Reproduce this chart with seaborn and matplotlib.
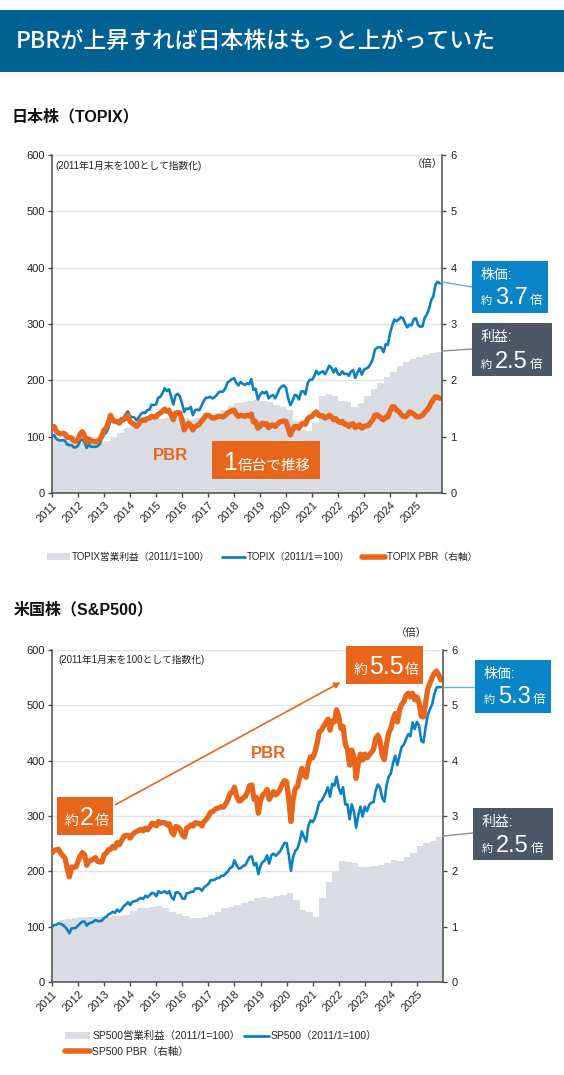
import numpy as np
import matplotlib
matplotlib.use("Agg")
import matplotlib.pyplot as plt
from matplotlib.lines import Line2D
from matplotlib.patches import Rectangle, Patch, FancyArrowPatch
import seaborn as sns

sns.set_theme(style="white")
plt.rcParams["font.family"] = ["Liberation Sans", "Noto Sans CJK JP"]

W, H = 564, 1075
BLUE = "#0b80c3"
ORANGE = "#e8661b"
AREA = "#d9dce2"
DARK = "#4f5668"
BANNER = "#006192"
SPINE = "#4a4a4a"

years = list(range(2011, 2026))

# TOPIX (2011/1 = 100), monthly
topix_index = [
    100, 103, 96, 94, 93, 94, 93, 86, 85, 85, 81, 81,
    84, 93, 95, 90, 80, 86, 82, 82, 82, 83, 87, 96,
    104, 107, 115, 129, 126, 126, 126, 123, 133, 133, 140, 145,
    136, 135, 134, 129, 134, 140, 143, 142, 147, 148, 157, 156,
    157, 169, 171, 177, 186, 181, 184, 171, 157, 173, 176, 172,
    159, 144, 150, 149, 153, 138, 147, 148, 147, 155, 163, 169,
    169, 171, 168, 170, 174, 179, 180, 180, 186, 196, 199, 202,
    204, 196, 191, 197, 194, 192, 195, 193, 202, 183, 185, 166,
    174, 179, 177, 180, 168, 172, 174, 168, 176, 185, 189, 191,
    187, 168, 156, 163, 174, 173, 166, 180, 181, 175, 195, 201,
    201, 207, 217, 211, 214, 216, 211, 218, 226, 222, 214, 221,
    211, 210, 216, 211, 212, 208, 216, 218, 204, 214, 221, 210,
    219, 221, 223, 229, 237, 254, 258, 259, 258, 250, 264, 263,
    283, 297, 308, 305, 308, 312, 310, 301, 294, 299, 298, 309,
    310, 298, 295, 296, 311, 317, 327, 342, 349, 370, 375, 372,
]

# TOPIX PBR (right axis), monthly
topix_pbr = [
    1.15, 1.18, 1.10, 1.06, 1.05, 1.06, 1.05, 0.99, 0.98, 0.98, 0.93, 0.92,
    0.95, 1.05, 1.09, 1.02, 0.91, 0.96, 0.92, 0.92, 0.91, 0.92, 0.95, 1.02,
    1.12, 1.15, 1.25, 1.38, 1.30, 1.27, 1.27, 1.24, 1.30, 1.30, 1.33, 1.38,
    1.27, 1.24, 1.22, 1.18, 1.22, 1.28, 1.30, 1.29, 1.32, 1.33, 1.36, 1.35,
    1.35, 1.40, 1.42, 1.45, 1.49, 1.45, 1.47, 1.38, 1.30, 1.42, 1.43, 1.42,
    1.30, 1.12, 1.18, 1.24, 1.20, 1.12, 1.18, 1.20, 1.22, 1.28, 1.32, 1.38,
    1.38, 1.36, 1.33, 1.33, 1.35, 1.36, 1.36, 1.35, 1.38, 1.42, 1.44, 1.46,
    1.47, 1.40, 1.36, 1.38, 1.37, 1.36, 1.38, 1.37, 1.40, 1.26, 1.27, 1.15,
    1.18, 1.24, 1.22, 1.23, 1.16, 1.20, 1.21, 1.18, 1.22, 1.26, 1.27, 1.28,
    1.27, 1.15, 1.03, 1.12, 1.18, 1.18, 1.15, 1.22, 1.24, 1.22, 1.32, 1.35,
    1.36, 1.41, 1.44, 1.38, 1.37, 1.37, 1.33, 1.35, 1.38, 1.35, 1.30, 1.32,
    1.27, 1.25, 1.27, 1.22, 1.22, 1.18, 1.22, 1.23, 1.16, 1.19, 1.21, 1.15,
    1.18, 1.19, 1.20, 1.25, 1.30, 1.38, 1.39, 1.36, 1.33, 1.30, 1.35, 1.35,
    1.45, 1.53, 1.53, 1.47, 1.45, 1.40, 1.36, 1.35, 1.38, 1.44, 1.42, 1.40,
    1.36, 1.35, 1.36, 1.38, 1.43, 1.47, 1.52, 1.60, 1.66, 1.71, 1.70, 1.68,
]

# TOPIX operating profit (2011/1 = 100), quarterly
topix_profit = [
    100, 95, 92, 90,
    88, 88, 89, 90,
    92, 98, 107, 115,
    120, 123, 127, 130,
    131, 133, 135, 134,
    133, 132, 134, 137,
    138, 142, 148, 154,
    159, 162, 164, 165,
    163, 161, 157, 152,
    147, 128, 112, 110,
    125, 172, 175, 173,
    163, 162, 153, 160,
    172, 185, 196, 206,
    215, 225, 233, 237,
    242, 245, 248, 251,
]

# S&P500 (2011/1 = 100), monthly
sp500_index = [
    100, 103, 103, 106, 105, 103, 100, 95, 88, 97, 97, 98,
    102, 106, 109, 109, 102, 106, 107, 109, 112, 110, 110, 111,
    116, 118, 122, 124, 127, 125, 131, 127, 131, 137, 140, 144,
    139, 145, 146, 147, 150, 152, 150, 156, 153, 157, 161, 160,
    155, 164, 161, 162, 164, 160, 164, 153, 149, 162, 162, 159,
    151, 150, 160, 161, 163, 163, 169, 169, 169, 165, 171, 174,
    177, 184, 184, 185, 188, 188, 192, 192, 196, 200, 206, 208,
    220, 211, 205, 206, 210, 211, 219, 226, 227, 211, 215, 195,
    210, 217, 220, 229, 214, 229, 232, 228, 232, 236, 244, 251,
    251, 230, 201, 226, 237, 241, 254, 272, 262, 254, 282, 292,
    289, 296, 309, 325, 327, 334, 342, 352, 335, 358, 355, 371,
    351, 340, 352, 321, 321, 294, 321, 308, 279, 301, 317, 299,
    317, 309, 320, 324, 325, 346, 357, 351, 333, 326, 355, 371,
    377, 396, 409, 392, 410, 425, 429, 439, 448, 444, 469, 457,
    470, 463, 436, 433, 460, 483, 493, 502, 520, 532, 533, 533,
]

# S&P500 PBR (right axis), monthly
sp500_pbr = [
    2.33, 2.38, 2.39, 2.40, 2.33, 2.28, 2.24, 2.05, 1.90, 2.08, 2.07, 2.08,
    2.18, 2.28, 2.34, 2.30, 2.11, 2.18, 2.20, 2.22, 2.25, 2.18, 2.17, 2.17,
    2.30, 2.33, 2.39, 2.40, 2.45, 2.42, 2.52, 2.48, 2.55, 2.63, 2.65, 2.65,
    2.60, 2.66, 2.70, 2.72, 2.74, 2.76, 2.73, 2.78, 2.75, 2.80, 2.87, 2.86,
    2.82, 2.90, 2.87, 2.88, 2.88, 2.84, 2.86, 2.72, 2.66, 2.81, 2.80, 2.76,
    2.66, 2.62, 2.78, 2.80, 2.84, 2.82, 2.88, 2.87, 2.86, 2.82, 2.90, 2.94,
    2.99, 3.07, 3.08, 3.12, 3.14, 3.15, 3.17, 3.16, 3.22, 3.30, 3.41, 3.43,
    3.52, 3.36, 3.27, 3.28, 3.33, 3.35, 3.44, 3.55, 3.56, 3.30, 3.34, 3.05,
    3.28, 3.38, 3.41, 3.48, 3.30, 3.38, 3.44, 3.38, 3.42, 3.48, 3.58, 3.64,
    3.62, 3.30, 2.90, 3.30, 3.50, 3.53, 3.70, 3.86, 3.74, 3.70, 3.95, 4.07,
    4.05, 4.15, 4.30, 4.52, 4.55, 4.62, 4.68, 4.75, 4.55, 4.72, 4.70, 4.92,
    4.80, 4.58, 4.62, 4.30, 4.20, 3.92, 4.19, 4.07, 3.68, 3.95, 4.12, 4.01,
    4.12, 4.05, 4.10, 4.15, 4.20, 4.40, 4.46, 4.35, 4.10, 4.02, 4.30, 4.50,
    4.58, 4.75, 4.85, 4.70, 4.92, 5.02, 5.07, 5.18, 5.22, 5.15, 5.22, 5.10,
    5.15, 5.04, 4.80, 4.79, 5.05, 5.30, 5.40, 5.50, 5.58, 5.62, 5.55, 5.46,
]

# S&P500 operating profit (2011/1 = 100), quarterly
sp500_profit = [
    100, 112, 114, 115,
    118, 118, 117, 118,
    118, 119, 120, 121,
    129, 133, 134, 135,
    137, 133, 127, 122,
    119, 116, 116, 117,
    121, 127, 133, 136,
    139, 142, 147, 152,
    154, 152, 155, 157,
    161, 148, 130, 127,
    118, 151, 181, 199,
    219, 217, 215, 208,
    207, 210, 212, 215,
    220, 219, 226, 234,
    246, 251, 254, 262,
]

months = 2011 + np.arange(len(topix_index)) / 12
q_edges = 2011 + np.arange(len(topix_profit) + 1) / 4


def fx(x):
    return x / W


def fy(y):
    return 1 - y / H


def panel(rect, index, pbr, profit):
    ax = fig.add_axes(rect)
    ax.fill_between(q_edges, np.append(profit, profit[-1]), step="post",
                    color=AREA, lw=0, zorder=1)
    sns.lineplot(x=months, y=index, ax=ax, color=BLUE, linewidth=1.9, zorder=3)
    ax.set_xlim(2011, 2026)
    ax.set_ylim(0, 600)
    ax.set_yticks(range(0, 601, 100))
    ax.set_xticks(years)
    ax.set_xticklabels([str(y) for y in years], rotation=45, ha="right",
                       rotation_mode="anchor")
    ax.yaxis.grid(True, color="#e1e3ea", lw=1)
    ax.set_axisbelow(True)
    for s in ["top", "right"]:
        ax.spines[s].set_visible(False)
    for s in ["left", "bottom"]:
        ax.spines[s].set_color(SPINE)
        ax.spines[s].set_linewidth(1.1)
    ax.tick_params(axis="both", which="both", bottom=True, left=True,
                   length=3, width=1, color=SPINE, labelsize=8, pad=2,
                   labelcolor="#222222")

    ax2 = ax.twinx()
    sns.lineplot(x=months, y=pbr, ax=ax2, color=ORANGE, linewidth=3.8,
                 solid_capstyle="round")
    ax2.set_ylim(0, 6)
    ax2.set_yticks(range(0, 7))
    ax2.grid(False)
    for s in ["top", "left", "bottom"]:
        ax2.spines[s].set_visible(False)
    ax2.spines["right"].set_visible(True)
    ax2.spines["right"].set_color(SPINE)
    ax2.spines["right"].set_linewidth(1.1)
    ax2.tick_params(axis="y", right=True, length=3, width=1, color=SPINE,
                    labelsize=8, pad=3, labelcolor="#222222")
    ax.set_xlabel("")
    ax.set_ylabel("")
    ax2.set_ylabel("")
    return ax, ax2


def box(x0, y0, x1, y1, color):
    fig.add_artist(Rectangle((fx(x0), fy(y1)), fx(x1 - x0), (y1 - y0) / H,
                             transform=fig.transFigure, facecolor=color,
                             edgecolor="none", zorder=5))


def txt(x, y, s, size, color="white", weight="normal", va="baseline", ha="left"):
    return fig.text(fx(x), fy(y), s, fontsize=size, color=color, weight=weight,
                    va=va, ha=ha, zorder=6)


def run(x, base, parts):
    # place pieces of text one after another on a shared baseline
    r = fig.canvas.get_renderer()
    for s, size, gap in parts:
        t = txt(x, base, s, size)
        x += t.get_window_extent(renderer=r).width + gap


def link(x0, y0, x1, y1, color):
    fig.add_artist(Line2D([fx(x0), fx(x1)], [fy(y0), fy(y1)],
                          transform=fig.transFigure, color=color, lw=1, zorder=4))


def callout(x0, y0, x1, y1, color, head, value, base):
    box(x0, y0, x1, y1, color)
    txt(x0 + 9, y0 + 14, head, 10, va="center")
    run(x0 + 9, base, [("約", 8, 3), (value, 17, 2), ("倍", 9, 0)])


fig = plt.figure(figsize=(W / 100, H / 100), dpi=100)
fig.patch.set_facecolor("white")

# banner
fig.add_artist(Rectangle((0, fy(72)), 1, 62 / H, transform=fig.transFigure,
                         facecolor=BANNER, edgecolor="none"))
fig.text(fx(16), fy(41), "PBRが上昇すれば日本株はもっと上がっていた",
         fontsize=16.5, color="white", weight="medium", va="center",
         family=["Noto Sans CJK JP"])

# ---- TOPIX ----
txt(11, 117, "日本株（TOPIX）", 11.5, color="#111111", weight="bold", va="center")
panel([fx(52), fy(493), fx(442) - fx(52), (493 - 155) / H],
      topix_index, topix_pbr, topix_profit)
txt(55, 166, "(2011年1月末を100として指数化)", 7, color="#222222", va="center")
txt(427, 164, "（倍）", 7.5, color="#222222", va="center", ha="center")
txt(170, 456, "PBR", 12, color=ORANGE, weight="bold", va="center", ha="center")
box(212, 441, 320, 479, ORANGE)
run(223, 470, [("1", 18, 1), ("倍台で推移", 10.5, 0)])

link(442, 282, 472, 287, "#5fb3e0")
callout(472, 261, 548, 313, "#0a86c8", "株価:", "3.7", 304)
link(442, 351, 472, 349, "#8a8f9c")
callout(472, 323, 552, 376, DARK, "利益:", "2.5", 368)

h1 = [Patch(facecolor=AREA, edgecolor="none"),
      Line2D([], [], color=BLUE, lw=2),
      Line2D([], [], color=ORANGE, lw=4)]
fig.legend(h1, ["TOPIX営業利益（2011/1=100）", "TOPIX（2011/1＝100）",
                "TOPIX PBR（右軸）"],
           loc="center", bbox_to_anchor=(fx(262), fy(557)), ncol=3,
           frameon=False, fontsize=7, handlelength=2.4, handletextpad=0.2,
           columnspacing=1.2, handleheight=0.6)

# ---- S&P500 ----
txt(14, 610, "米国株（S&P500）", 11.5, color="#111111", weight="bold", va="center")
panel([fx(52), fy(982), fx(443) - fx(52), (982 - 650) / H],
      sp500_index, sp500_pbr, sp500_profit)
txt(58, 660, "(2011年1月末を100として指数化)", 7, color="#222222", va="center")
txt(411, 633, "（倍）", 7.5, color="#222222", va="center", ha="center")
txt(268, 754, "PBR", 12, color=ORANGE, weight="bold", va="center", ha="center")

fig.add_artist(FancyArrowPatch((fx(113), fy(806)), (fx(343), fy(681)),
                               transform=fig.transFigure, arrowstyle="-|>",
                               mutation_scale=9, color=ORANGE, lw=1.2, zorder=5))
box(57, 797, 113, 835, ORANGE)
run(65, 825, [("約", 10, 1), ("2", 18, 1), ("倍", 10, 0)])
box(346, 646, 423, 684, ORANGE)
run(354, 674, [("約", 10, 1), ("5.5", 18, 1), ("倍", 10, 0)])

link(443, 687, 475, 687, "#5fb3e0")
callout(475, 660, 551, 713, "#0a86c8", "株価:", "5.3", 703)
link(443, 836, 473, 833, "#8a8f9c")
callout(473, 808, 553, 860, DARK, "利益:", "2.5", 852)

h2 = [Patch(facecolor=AREA, edgecolor="none"),
      Line2D([], [], color=ORANGE, lw=4),
      Line2D([], [], color=BLUE, lw=2)]
fig.legend(h2, ["SP500営業利益（2011/1=100）", "SP500 PBR（右軸）",
                "SP500（2011/1=100）"],
           loc="upper left", bbox_to_anchor=(fx(56), fy(1022)), ncol=2,
           frameon=False, fontsize=7.5, handlelength=2.4, handletextpad=0.2,
           columnspacing=0.3, handleheight=0.6, labelspacing=0.5)

fig.savefig("out.png", dpi=100, facecolor="white")
